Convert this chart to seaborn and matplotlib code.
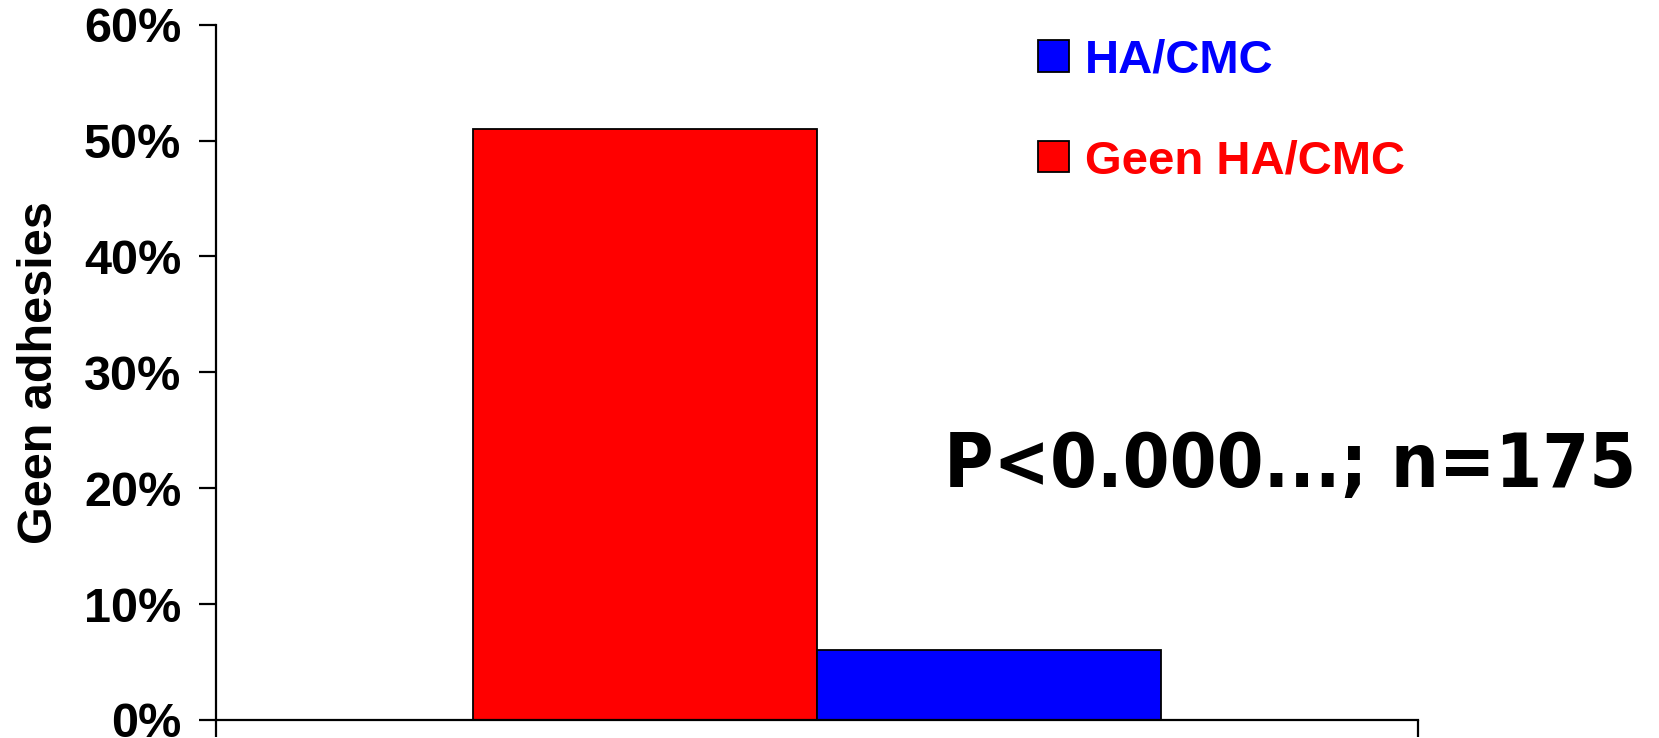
import matplotlib
matplotlib.use("Agg")
import matplotlib.pyplot as plt
import matplotlib.ticker as mticker
import pandas as pd
import seaborn as sns

# Share of patients without adhesions, per treatment group
groups = ["Geen HA/CMC", "HA/CMC"]
shares = [0.51, 0.06]
colors = ["#FF0000", "#0000FF"]
y_ticks = [0.0, 0.1, 0.2, 0.3, 0.4, 0.5, 0.6]
y_label = "Geen adhesies"
stat_text = "P<0.000...; n=175"

sns.set_theme(style="white")
plt.rcParams["font.family"] = ["Liberation Sans", "DejaVu Sans"]
plt.rcParams["font.weight"] = "bold"

df = pd.DataFrame({"cat": [""] * len(groups), "group": groups, "share": shares})

fig = plt.figure(figsize=(16.59, 7.38), dpi=100)
ax = fig.add_axes([0.1302, 0.0244, 0.7245, 0.9421])

sns.barplot(data=df, x="cat", y="share", hue="group", hue_order=groups,
            palette=colors, width=0.573, saturation=1, ax=ax,
            edgecolor="black", linewidth=1.3, legend=False)

ax.set_ylim(0, 0.6)
ax.set_xlim(-0.5, 0.5)
ax.set_yticks(y_ticks)
ax.yaxis.set_major_formatter(mticker.PercentFormatter(1.0, decimals=0))
ax.set_xticks([-0.5, 0.5])
ax.set_xticklabels([])
ax.set_xlabel("")

for side in ["top", "right"]:
    ax.spines[side].set_visible(False)
for side in ["left", "bottom"]:
    ax.spines[side].set_color("black")
    ax.spines[side].set_linewidth(1.6)

ax.tick_params(axis="y", direction="out", length=12, width=1.6, color="black",
               pad=13, labelsize=35, labelcolor="black", left=True)
ax.tick_params(axis="x", direction="out", length=12, width=1.6, color="black",
               bottom=True)
for lbl in ax.get_yticklabels():
    lbl.set_fontweight("bold")

ax.set_ylabel(y_label, fontsize=35, fontweight="bold", color="black")
ax.yaxis.set_label_coords(-0.128, 0.5)

ax.text(0.606, 0.335, stat_text, transform=ax.transAxes, ha="left",
        va="baseline", fontsize=54, fontweight="bold", color="black",
        family="DejaVu Sans", fontstretch="condensed", clip_on=False)

# Legend: HA/CMC listed first
handles = [plt.Rectangle((0, 0), 1, 1, facecolor=c, edgecolor="black",
                         linewidth=1.3) for c in colors]
order = [1, 0]
leg = fig.legend([handles[i] for i in order], [groups[i] for i in order],
                 loc="upper left", bbox_to_anchor=(0.6257, 0.948),
                 frameon=False, fontsize=34, handlelength=0.66,
                 handleheight=0.66, handletextpad=0.33, labelspacing=1.2,
                 borderpad=0, borderaxespad=0)
for txt, i in zip(leg.get_texts(), order):
    txt.set_color(colors[i])
    txt.set_fontweight("bold")

fig.savefig("out.png", dpi=100, facecolor="white")
